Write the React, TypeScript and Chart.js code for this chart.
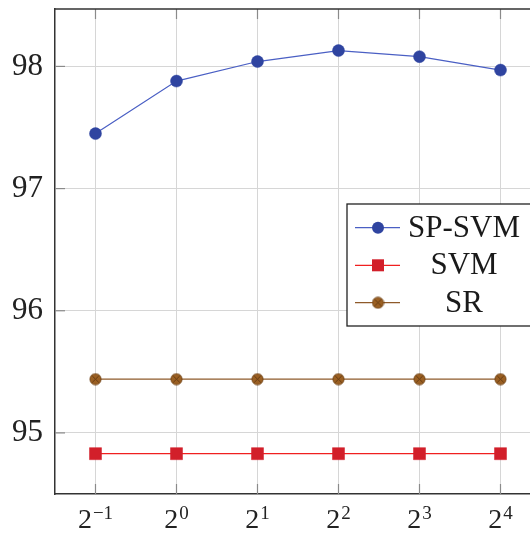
import React, { useEffect, useRef } from "react";
import { Chart, registerables } from "chart.js";

Chart.register(...registerables);

const categories = ["-1", "0", "1", "2", "3", "4"];
const spSvm = [97.45, 97.88, 98.04, 98.13, 98.08, 97.97];
const svm = [94.83, 94.83, 94.83, 94.83, 94.83, 94.83];
const sr = [95.44, 95.44, 95.44, 95.44, 95.44, 95.44];
const yTicks = [95, 96, 97, 98];
const seriesNames = ["SP-SVM", "SVM", "SR"];

const FONT = "'Liberation Serif', 'Times New Roman', serif";

function makeSrMarker(): HTMLCanvasElement {
  const c = document.createElement("canvas");
  c.width = 13;
  c.height = 13;
  const g = c.getContext("2d")!;
  g.beginPath();
  g.arc(6.5, 6.5, 5.6, 0, Math.PI * 2);
  g.fillStyle = "#9a5f22";
  g.fill();
  g.strokeStyle = "#6a3e12";
  g.lineWidth = 0.8;
  g.stroke();
  g.beginPath();
  g.moveTo(3.3, 3.3);
  g.lineTo(9.7, 9.7);
  g.moveTo(9.7, 3.3);
  g.lineTo(3.3, 9.7);
  g.strokeStyle = "#5a3510";
  g.lineWidth = 0.8;
  g.stroke();
  return c;
}

export default function App() {
  const ref = useRef<HTMLCanvasElement>(null);

  useEffect(() => {
    if (!ref.current) return;
    const srMarker = makeSrMarker();

    const framePlugin = {
      id: "frame",
      beforeDatasetsDraw(chart: any) {
        const { ctx, chartArea } = chart;
        const xs = chart.scales.x;
        const ys = chart.scales.y;
        ctx.save();
        ctx.strokeStyle = "#8a8a8a";
        ctx.lineWidth = 1.2;
        categories.forEach((_, i) => {
          const x = xs.getPixelForValue(i);
          ctx.beginPath();
          ctx.moveTo(x, chartArea.top);
          ctx.lineTo(x, chartArea.top + 10);
          ctx.moveTo(x, chartArea.bottom);
          ctx.lineTo(x, chartArea.bottom - 10);
          ctx.stroke();
        });
        yTicks.forEach((v) => {
          const y = ys.getPixelForValue(v);
          ctx.beginPath();
          ctx.moveTo(chartArea.left, y);
          ctx.lineTo(chartArea.left + 10, y);
          ctx.stroke();
        });
        ctx.strokeStyle = "#333";
        ctx.lineWidth = 1.5;
        ctx.beginPath();
        ctx.moveTo(chartArea.left, chartArea.top);
        ctx.lineTo(chartArea.right, chartArea.top);
        ctx.lineTo(chartArea.right, chartArea.bottom);
        ctx.stroke();
        ctx.restore();
      },
      afterDraw(chart: any) {
        const { ctx, chartArea } = chart;
        const xs = chart.scales.x;
        ctx.save();
        // x tick labels: 2^k
        ctx.fillStyle = "#222";
        ctx.textBaseline = "alphabetic";
        categories.forEach((exp, i) => {
          const x = xs.getPixelForValue(i);
          ctx.font = `28px ${FONT}`;
          const wBase = ctx.measureText("2").width;
          ctx.font = `19px ${FONT}`;
          const expText = exp.replace("-", "\u2212");
          const wExp = ctx.measureText(expText).width;
          const total = wBase + 1 + wExp;
          const x0 = x - total / 2;
          ctx.textAlign = "left";
          ctx.font = `28px ${FONT}`;
          ctx.fillText("2", x0, chartArea.bottom + 34);
          ctx.font = `19px ${FONT}`;
          ctx.fillText(expText, x0 + wBase + 1, chartArea.bottom + 25);
        });

        // legend
        const bx = 347, by = 204, bw = 260, bh = 122;
        ctx.fillStyle = "#fff";
        ctx.fillRect(bx, by, bw, bh);
        ctx.strokeStyle = "#222";
        ctx.lineWidth = 1.3;
        ctx.strokeRect(bx, by, bw, bh);
        const rows = [227.7, 265.3, 302.7];
        chart.data.datasets.forEach((ds: any, i: number) => {
          const y = rows[i];
          ctx.strokeStyle = ds.borderColor;
          ctx.lineWidth = ds.borderWidth;
          ctx.beginPath();
          ctx.moveTo(355, y);
          ctx.lineTo(400, y);
          ctx.stroke();
          const mx = 378;
          if (i === 0) {
            ctx.fillStyle = ds.pointBackgroundColor;
            ctx.beginPath();
            ctx.arc(mx, y, 6, 0, Math.PI * 2);
            ctx.fill();
          } else if (i === 1) {
            ctx.fillStyle = ds.pointBackgroundColor;
            ctx.fillRect(mx - 6, y - 6, 12, 12);
          } else {
            ctx.drawImage(srMarker, mx - 6.5, y - 6.5);
          }
          ctx.fillStyle = "#1a1a1a";
          ctx.font = `31px ${FONT}`;
          ctx.textAlign = "center";
          ctx.textBaseline = "middle";
          ctx.fillText(seriesNames[i], 464, y + 1);
        });
        ctx.restore();
      },
    };

    const chart = new Chart(ref.current, {
      type: "line",
      data: {
        labels: categories,
        datasets: [
          {
            label: seriesNames[0],
            data: spSvm,
            borderColor: "#4a5fc4",
            borderWidth: 1.2,
            pointStyle: "circle",
            pointRadius: 6,
            pointBackgroundColor: "#2f44a0",
            pointBorderColor: "#2f44a0",
            pointBorderWidth: 0.5,
          },
          {
            label: seriesNames[1],
            data: svm,
            borderColor: "#f02020",
            borderWidth: 1.2,
            pointStyle: "rect",
            pointRadius: 8.5,
            pointBackgroundColor: "#d21f2a",
            pointBorderColor: "#d21f2a",
            pointBorderWidth: 0.5,
          },
          {
            label: seriesNames[2],
            data: sr,
            borderColor: "#8e5a2a",
            borderWidth: 1.2,
            pointStyle: srMarker,
            pointRadius: 6,
          },
        ],
      },
      options: {
        responsive: false,
        animation: false,
        layout: { padding: { top: 9, right: 19, left: 0, bottom: 0 } },
        plugins: {
          legend: { display: false },
          tooltip: { enabled: false },
        },
        scales: {
          x: {
            offset: true,
            grid: { offset: false, color: "#d6d6d6", lineWidth: 1, drawTicks: false },
            border: { color: "#333", width: 1.5 },
            ticks: { display: false },
            afterFit(scale: any) {
              scale.height = 40;
              scale.paddingLeft = 0;
              scale.paddingRight = 0;
            },
          },
          y: {
            min: 94.5,
            max: 98.47,
            grid: { color: "#d6d6d6", lineWidth: 1, drawTicks: false },
            border: { color: "#333", width: 1.5 },
            afterBuildTicks(scale: any) {
              scale.ticks = yTicks.map((v) => ({ value: v }));
            },
            ticks: {
              color: "#222",
              padding: 12,
              font: { family: FONT, size: 31 },
              callback: (v: any) => String(v),
            },
            afterFit(scale: any) {
              scale.width = 55;
              scale.paddingTop = 0;
              scale.paddingBottom = 0;
            },
          },
        },
      },
      plugins: [framePlugin],
    });
    return () => chart.destroy();
  }, []);

  return (
    <div
      style={{
        position: "fixed",
        left: 0,
        top: 0,
        width: 530,
        height: 534,
        overflow: "hidden",
        background: "#fff",
      }}
    >
      <canvas ref={ref} width={560} height={534} style={{ display: "block" }} />
    </div>
  );
}
